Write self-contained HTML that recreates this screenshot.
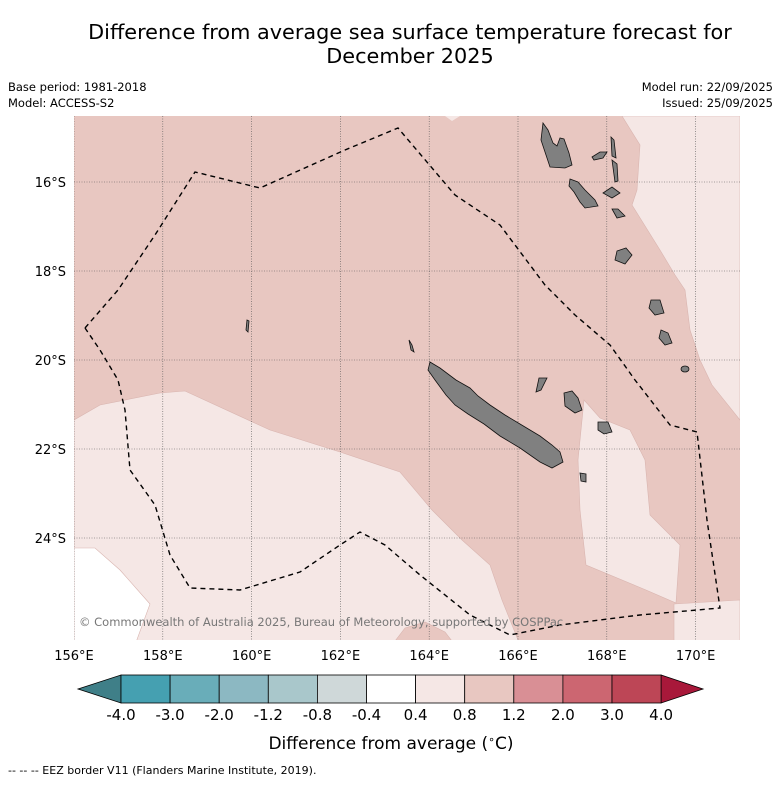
<!DOCTYPE html>
<html><head><meta charset="utf-8"><style>
body{margin:0;background:#fff;width:781px;height:781px;overflow:hidden;font-family:"Liberation Sans","DejaVu Sans",sans-serif}
svg text{font-family:"DejaVu Sans","Liberation Sans",sans-serif}
</style></head><body>
<svg id="c" width="781" height="781" viewBox="0 0 781 781">
<text x="410" y="39" font-size="20.8" text-anchor="middle">Difference from average sea surface temperature forecast for</text>
<text x="410" y="63" font-size="20.8" text-anchor="middle">December 2025</text>
<text x="8" y="91" font-size="11.5">Base period: 1981-2018</text>
<text x="8" y="107" font-size="11.5">Model: ACCESS-S2</text>
<text x="773" y="91" font-size="11.5" text-anchor="end">Model run: 22/09/2025</text>
<text x="773" y="107" font-size="11.5" text-anchor="end">Issued: 25/09/2025</text>
<defs><clipPath id="mc"><rect x="74" y="116" width="666" height="524"/></clipPath></defs>
<g clip-path="url(#mc)">
<rect x="74" y="116" width="666" height="524" fill="#e8c7c1"/>
<polygon fill="#f5e7e5" stroke="#d9b5b0" stroke-width="0.6" points="74,420 100,405 160,393 185,391 270,430 340,452 400,472 432,510 462,540 490,565 502,600 520,645 74,645"/>
<polygon fill="#e8c7c1" stroke="#d9b5b0" stroke-width="0.6" points="392,645 405,628 425,622 445,632 455,645"/>
<polygon fill="#fff" stroke="#d9b5b0" stroke-width="0.6" points="74,548 95,548 120,570 150,604 135,645 74,645"/>
<polygon fill="#f5e7e5" stroke="#d9b5b0" stroke-width="0.6" points="622,116 640,145 637,190 632,205 660,250 675,275 685,290 690,330 700,360 712,385 740,420 740,116"/>
<polygon fill="#f5e7e5" stroke="#d9b5b0" stroke-width="0.6" points="584,400 600,418 630,430 645,460 650,515 680,545 676,603 646,590 586,565 580,510 578,460"/>
<polygon fill="#f5e7e5" stroke="#d9b5b0" stroke-width="0.6" points="674,604 740,600 740,645 674,645"/>
<polygon fill="#f5e7e5" points="445,116 460,116 452,121"/>
<g id="grid"></g>
<g fill="#808080" stroke="#111" stroke-width="0.8">
<polygon points="430,362 440,368 456,380 470,388 478,396 490,405 505,415 520,424 540,436 552,445 560,452 563,462 552,468 540,462 520,448 500,436 484,424 468,414 455,405 446,395 435,380 428,370"/>
<polygon points="543,123 548,130 553,143 557,146 560,138 564,139 569,153 572,165 565,168 550,167 546,155 541,140"/>
<polygon points="570,179 578,182 585,190 595,200 598,206 585,208 580,202 574,192 569,186"/>
<polygon points="592,157 600,152 607,152 603,158 594,160"/>
<polygon points="611,137 614,140 616,158 612,156"/>
<polygon points="612,160 617,164 618,181 615,182"/>
<polygon points="603,193 612,187 620,193 612,198"/>
<polygon points="612,209 618,209 625,216 617,218"/>
<polygon points="617,251 626,248 632,255 625,264 615,260"/>
<polygon points="651,300 660,300 664,313 655,315 649,308"/>
<polygon points="661,330 668,333 672,343 665,345 659,338"/>
<ellipse cx="685" cy="369" rx="4" ry="3"/>
<polygon points="564,393 572,391 578,398 582,410 575,413 565,406"/>
<polygon points="598,422 608,422 612,432 604,434 598,430"/>
<polygon points="539,378 547,378 541,390 536,392"/>
<polygon points="580,473 586,474 586,482 581,481"/>
<polygon points="247,320 249,321 248,332 246,330"/>
<polygon points="409,340 412,345 414,352 411,350"/>
</g>
<polyline fill="none" stroke="#000" stroke-width="1.4" stroke-dasharray="5,4" points="85,328 118,290 155,235 195,172 260,188 345,150 398,128 455,195 500,225 545,285 575,315 610,345 635,380 670,425 697,432 707,520 720,608 640,615 560,625 510,635 470,615 420,575 385,545 360,532 340,545 300,572 240,590 190,588 170,555 155,505 130,470 125,410 118,380 100,350 85,328"/>
<text x="79" y="626" font-size="11.5" fill="#777">© Commonwealth of Australia 2025, Bureau of Meteorology, supported by COSPPac</text>
</g>
<g id="axes"></g>
<g id="cbar"></g>
<text x="391" y="749" font-size="17" text-anchor="middle">Difference from average (<tspan font-size="11" dy="-6">∘</tspan><tspan dy="6">C)</tspan></text>
<text x="8" y="774" font-size="11">--  --  -- EEZ border V11 (Flanders Marine Institute, 2019).</text>
</svg>
<script>
const lonTicks=[156,158,160,162,164,166,168,170];
const latTicks=[16,18,20,22,24];
const binEdges=["-4.0","-3.0","-2.0","-1.2","-0.8","-0.4","0.4","0.8","1.2","2.0","3.0","4.0"];
const binColors=["#45a0b1","#69adb9","#8cb8c2","#a9c7cb","#cfd8d9","#ffffff","#f5e7e5","#e8c7c1","#d98f95","#cc6671","#bd4656"];
const extendColors=["#3f7f88","#a8183a"];
const NS="http://www.w3.org/2000/svg";
const X=lon=>74+(lon-156)*44.4, Y=lat=>182+(lat-16)*44.5;
function mk(t,a,p){const e=document.createElementNS(NS,t);for(const k in a)e.setAttribute(k,a[k]);p.appendChild(e);return e;}
const grid=document.getElementById('grid'),axes=document.getElementById('axes'),cb=document.getElementById('cbar');
lonTicks.forEach(l=>{
 const g=mk('line',{x1:X(l),x2:X(l),y1:116,y2:640,stroke:'#555','stroke-width':0.6,'stroke-dasharray':'1,1.5'},grid);
 
 
 const t=mk('text',{x:X(l),y:660,'font-size':13,'text-anchor':'middle'},axes);t.textContent=l+'°E';
 
 
});
latTicks.forEach(l=>{
 const g=mk('line',{x1:74,x2:740,y1:Y(l),y2:Y(l),stroke:'#555','stroke-width':0.6,'stroke-dasharray':'1,1.5'},grid);
 
 
 const t=mk('text',{x:66,y:Y(l)+5,'font-size':13,'text-anchor':'end'},axes);t.textContent=l+'°S';
 
 
});
const cx0=121,cw=49.1,cy=675,ch=28;
const L=mk('polygon',{points:`78,${cy+ch/2} ${cx0},${cy} ${cx0},${cy+ch}`,fill:extendColors[0],stroke:'#000','stroke-width':0.8},cb);


const xe=cx0+cw*binColors.length;
const R=mk('polygon',{points:`${xe},${cy} 703,${cy+ch/2} ${xe},${cy+ch}`,fill:extendColors[1],stroke:'#000','stroke-width':0.8},cb);


binColors.forEach((c,i)=>{
 const r=mk('rect',{x:cx0+i*cw,y:cy,width:cw,height:ch,fill:c,stroke:'#000','stroke-width':0.8},cb);
 
 
});
binEdges.forEach((s,i)=>{
 const t=mk('text',{x:cx0+i*cw,y:720,'font-size':15,'text-anchor':'middle'},cb);t.textContent=s;
 
 
});
</script>
</body></html>
